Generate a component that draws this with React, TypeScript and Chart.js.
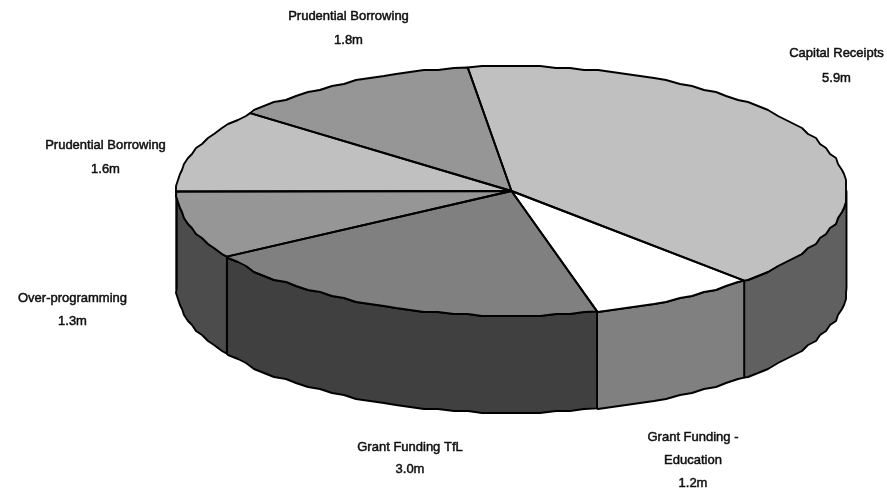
import React, { useEffect, useRef } from "react";
import { Chart, registerables } from "chart.js";

Chart.register(...registerables);

// Capital programme funding, in £ millions, clockwise from the top of the pie.
const fundingSources = [
  ["Capital Receipts"],
  ["Grant Funding -", "Education"],
  ["Grant Funding TfL"],
  ["Over-programming"],
  ["Prudential Borrowing"],
  ["Prudential Borrowing"],
];
const fundingValues = [5.9, 1.2, 3.0, 1.3, 1.6, 1.8];
const topColours = ["#C0C0C0", "#FFFFFF", "#808080", "#969696", "#C0C0C0", "#969696"];
const wallColours = ["#606060", "#808080", "#404040", "#4C4C4C", "#606060", "#4C4C4C"];

// Where each caption block is centred on the canvas (x, middle of first line).
const captionAnchors = [
  [836.5, 53],
  [693, 437],
  [410, 447],
  [72.5, 298],
  [105.5, 145],
  [348.5, 16],
];
const captionLineGaps = [25, 23, 22, 23, 24, 24];

const WIDTH = 887;
const HEIGHT = 495;
const RADIUS_X = 335;
const RADIUS_Y = 124.5;
const SQUASH = RADIUS_Y / RADIUS_X;
const DEPTH = 97;
const ROTATION_DEG = -7.5;
const EDGE = 1.9;
const STEP = (2.5 * Math.PI) / 180;
const GRID = 2;

type Pt = [number, number];

// Rim points sit on a coarse pixel grid, giving the outline its slightly stepped look.
function rimPoints(cx: number, cy: number, from: number, to: number): Pt[] {
  const pts: Pt[] = [[cx + RADIUS_X * Math.cos(from), cy + RADIUS_Y * Math.sin(from)]];
  for (let k = Math.ceil(from / STEP + 1e-6); k * STEP < to; k++) {
    const a = k * STEP;
    pts.push([
      Math.round((cx + RADIUS_X * Math.cos(a)) / GRID) * GRID,
      Math.round((cy + RADIUS_Y * Math.sin(a)) / GRID) * GRID,
    ]);
  }
  pts.push([cx + RADIUS_X * Math.cos(to), cy + RADIUS_Y * Math.sin(to)]);
  return pts;
}

const pie3d = {
  id: "pie3d",
  // Side walls go underneath the flattened pie.
  beforeDatasetsDraw(chart: any) {
    const ctx = chart.ctx;
    const arcs = chart.getDatasetMeta(0).data;
    ctx.save();
    ctx.lineJoin = "round";
    ctx.lineWidth = EDGE;
    ctx.strokeStyle = "#000";
    arcs.forEach((arc: any, i: number) => {
      const from = Math.max(arc.startAngle, 0);
      const to = Math.min(arc.endAngle, Math.PI);
      if (to <= from) return;
      const top = rimPoints(arc.x, arc.y, from, to);
      ctx.beginPath();
      top.forEach(([x, y], n) => (n ? ctx.lineTo(x, y) : ctx.moveTo(x, y)));
      [...top].reverse().forEach(([x, y]) => ctx.lineTo(x, y + DEPTH));
      ctx.closePath();
      ctx.fillStyle = wallColours[i];
      ctx.fill();
      ctx.stroke();
    });
    ctx.restore();
  },
  // The circular pie is squashed vertically into an ellipse around its centre.
  beforeDatasetDraw(chart: any) {
    const { x, y } = chart.getDatasetMeta(0).data[0];
    const ctx = chart.ctx;
    ctx.save();
    ctx.translate(x, y);
    ctx.scale(1, SQUASH);
    ctx.translate(-x, -y);
  },
  afterDatasetDraw(chart: any) {
    chart.ctx.restore();
  },
  // Outlines are stroked unsquashed so their width stays even all the way round.
  afterDatasetsDraw(chart: any) {
    const ctx = chart.ctx;
    const arcs = chart.getDatasetMeta(0).data;
    ctx.save();
    ctx.lineJoin = "round";
    ctx.lineCap = "round";
    ctx.lineWidth = EDGE;
    ctx.strokeStyle = "#000";
    arcs.forEach((arc: any) => {
      const rim = rimPoints(arc.x, arc.y, arc.startAngle, arc.endAngle);
      ctx.beginPath();
      ctx.moveTo(arc.x, arc.y);
      rim.forEach(([x, y]) => ctx.lineTo(x, y));
      ctx.closePath();
      ctx.stroke();
    });

    // Captions get a hairline stroke to carry the heavier weight of the type.
    ctx.fillStyle = "#111";
    ctx.strokeStyle = "#111";
    ctx.lineWidth = 0.5;
    ctx.font = "13px 'Liberation Sans', Arial, sans-serif";
    ctx.textAlign = "center";
    ctx.textBaseline = "middle";
    fundingSources.forEach((lines, i) => {
      const [x, y] = captionAnchors[i];
      const gap = captionLineGaps[i];
      const text = [...lines, `${fundingValues[i].toFixed(1)}m`];
      text.forEach((line, n) => {
        ctx.fillText(line, x, y + n * gap);
        ctx.strokeText(line, x, y + n * gap);
      });
    });
    ctx.restore();
  },
};

export default function App() {
  const canvasRef = useRef<HTMLCanvasElement | null>(null);

  useEffect(() => {
    const chart = new Chart(canvasRef.current as HTMLCanvasElement, {
      type: "pie",
      data: {
        labels: fundingSources.map((l) => l.join(" ")),
        datasets: [
          {
            data: fundingValues,
            backgroundColor: topColours,
            borderWidth: 0,
            clip: false,
          } as any,
        ],
      },
      options: {
        animation: false,
        responsive: false,
        rotation: ROTATION_DEG,
        radius: RADIUS_X,
        layout: { padding: { left: 136, bottom: 113 } },
        plugins: { legend: { display: false }, tooltip: { enabled: false } },
      } as any,
      plugins: [pie3d],
    });
    return () => chart.destroy();
  }, []);

  return (
    <div style={{ position: "absolute", left: 0, top: 0, width: WIDTH, height: HEIGHT, background: "#fff" }}>
      <canvas ref={canvasRef} width={WIDTH} height={HEIGHT} style={{ display: "block" }} />
    </div>
  );
}
